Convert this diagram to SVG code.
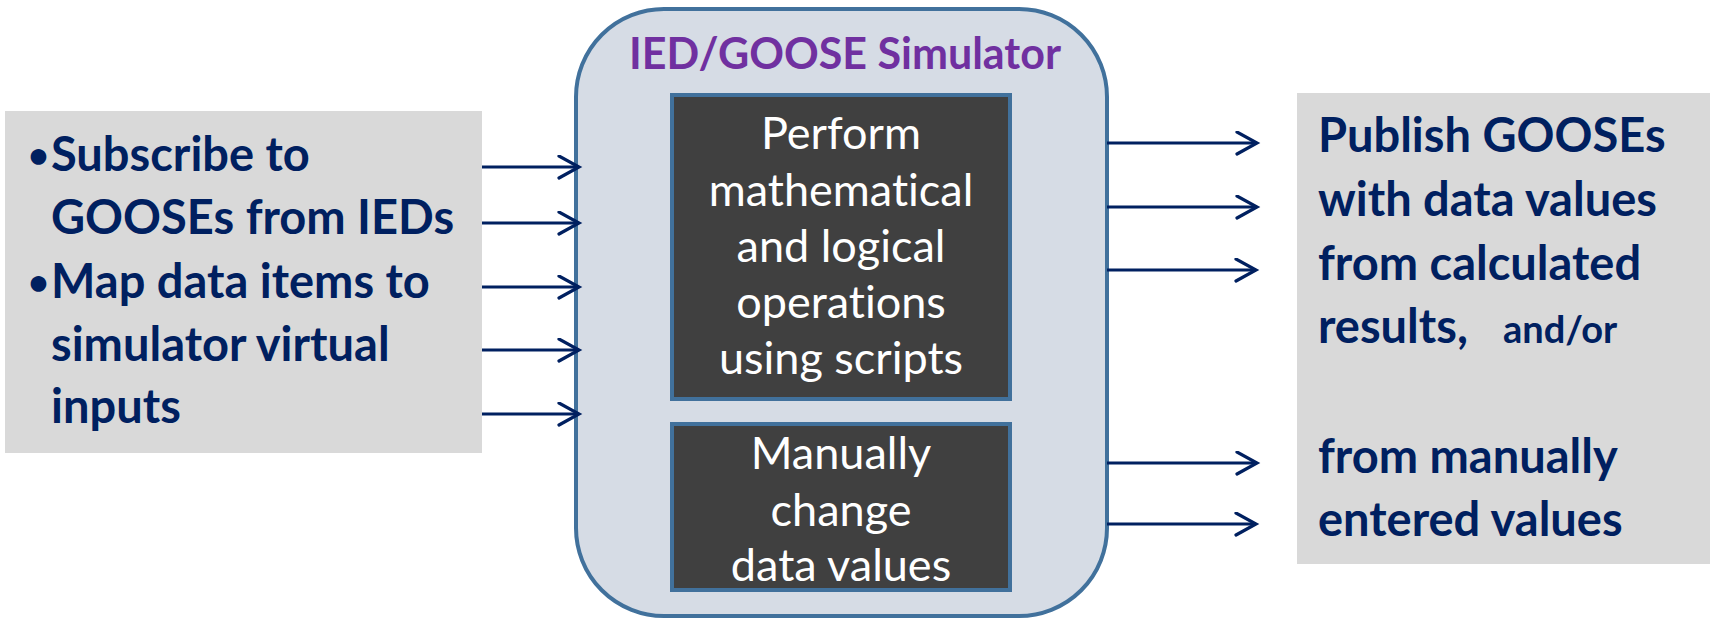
<svg xmlns="http://www.w3.org/2000/svg" width="1710" height="621" viewBox="0 0 1710 621">
<style>
text{font-variant-ligatures:none;}
.side{fill:#d9d9d9;}
.navy{fill:#002060;font-family:Lato,"Open Sans",sans-serif;font-weight:bold;font-size:47px;}
.small{font-size:38px;}
.bul{font-size:36px;}
.title{fill:#7030a0;font-family:Lato,"Open Sans",sans-serif;font-weight:bold;font-size:43px;text-anchor:middle;}
.dark{fill:#404040;stroke:#41719c;stroke-width:4;}
.wt{fill:#ffffff;font-family:Lato,"Open Sans",sans-serif;font-size:45px;text-anchor:middle;}
.conn line{stroke:#002060;stroke-width:3;marker-end:url(#chev);}
</style>
<defs>
<marker id="chev" markerUnits="userSpaceOnUse" markerWidth="30" markerHeight="30" refX="22" refY="12" orient="auto" viewBox="0 0 30 30">
<path d="M2,1 L22,12 L2,23" fill="none" stroke="#002060" stroke-width="3.2" stroke-linecap="round" stroke-linejoin="miter"/>
</marker>
</defs>
<g id="inputs">
<rect class="side" x="5" y="111" width="477" height="342"/>
<text class="navy"><tspan class="bul" x="28" y="168">•</tspan><tspan x="51" y="171">Subscribe to</tspan><tspan x="51" y="234">GOOSEs from IEDs</tspan><tspan class="bul" x="28" y="295">•</tspan><tspan x="51" y="298">Map data items to</tspan><tspan x="51" y="361">simulator virtual</tspan><tspan x="51" y="423">inputs</tspan></text>
</g>
<g id="simulator">
<rect x="576" y="9" width="531" height="607" rx="88" ry="88" fill="#d6dce5" stroke="#41719c" stroke-width="4"/>
<text class="title" x="845" y="69">IED/GOOSE Simulator</text>
</g>
<g id="scripts">
<rect class="dark" x="672" y="95" width="338" height="304"/>
<text class="wt"><tspan x="841" y="149">Perform</tspan><tspan x="841" y="206">mathematical</tspan><tspan x="841" y="262">and logical</tspan><tspan x="841" y="318">operations</tspan><tspan x="841" y="374">using scripts</tspan></text>
</g>
<g id="manual">
<rect class="dark" x="672" y="424" width="338" height="166"/>
<text class="wt"><tspan x="841" y="469">Manually</tspan><tspan x="841" y="526">change</tspan><tspan x="841" y="581">data values</tspan></text>
</g>
<g id="outputs">
<rect class="side" x="1297" y="93" width="413" height="471"/>
<text class="navy"><tspan x="1318" y="152">Publish GOOSEs</tspan><tspan x="1318" y="216">with data values</tspan><tspan x="1318" y="280">from calculated</tspan><tspan x="1318" y="343">results,</tspan><tspan class="small" x="1503" y="343">and/or</tspan><tspan x="1318" y="473">from manually</tspan><tspan x="1318" y="536">entered values</tspan></text>
</g>
<g id="connectors" class="conn">
<line x1="482" y1="167" x2="579" y2="167"/>
<line x1="482" y1="223" x2="579" y2="223"/>
<line x1="482" y1="287" x2="579" y2="287"/>
<line x1="482" y1="350" x2="579" y2="350"/>
<line x1="482" y1="414" x2="579" y2="414"/>
<line x1="1107" y1="143" x2="1257" y2="143"/>
<line x1="1107" y1="207" x2="1257" y2="207"/>
<line x1="1107" y1="270" x2="1256" y2="270"/>
<line x1="1107" y1="463" x2="1257" y2="463"/>
<line x1="1107" y1="524" x2="1256" y2="524"/>
</g>
</svg>
